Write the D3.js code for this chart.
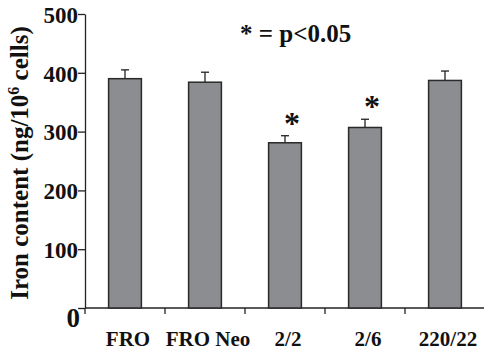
<!DOCTYPE html>
<html>
<head>
<meta charset="utf-8">
<script src="https://cdn.jsdelivr.net/npm/d3@7"></script>
<style>
  body { margin: 0; background: #fff; }
  text { font-family: "Liberation Serif", "Times New Roman", serif; font-weight: bold; fill: #111; }
</style>
</head>
<body>
<script>
const categories = ["FRO", "FRO Neo", "2/2", "2/6", "220/22"];
const values = [390, 384, 281, 307, 387];
const errors = [15, 17, 12, 14, 16];
const significant = [false, false, true, true, false];
const yTicks = [0, 100, 200, 300, 400, 500];

const width = 484;
const height = 350;

const svg = d3.select("body")
  .append("svg")
  .attr("width", width)
  .attr("height", height);

// scales
const xScale = d3.scaleBand()
  .domain(categories)
  .range([85, 485])
  .paddingInner(0.59)
  .paddingOuter(0.295);

const yScale = d3.scaleLinear()
  .domain([0, 500])
  .range([308, 14]);

// y axis
const yAxis = d3.axisLeft(yScale)
  .tickValues(yTicks)
  .tickSize(7)
  .tickSizeOuter(0)
  .tickFormat((d) => (d === 0 ? "" : d));

const gy = svg.append("g")
  .attr("transform", "translate(85,0)")
  .call(yAxis);
gy.select(".domain").attr("stroke", "#222").attr("stroke-width", 1.3);
gy.selectAll(".tick line").attr("stroke", "#222").attr("stroke-width", 1.3);
gy.selectAll(".tick text")
  .attr("x", -7)
  .attr("dy", "0.36em")
  .style("font-size", "23px")
  .style("font-family", "'Liberation Serif', serif")
  .style("font-weight", "bold")
  .attr("fill", "#111");

// the big zero at the origin
svg.append("text")
  .attr("x", 80)
  .attr("y", 327)
  .attr("text-anchor", "end")
  .style("font-size", "27px")
  .text("0");

// x axis line with ticks between the groups
const step = xScale.step();
const gap = step - xScale.bandwidth();
const boundaries = [85].concat(categories.map((c) => xScale(c) + xScale.bandwidth() + gap / 2));

svg.append("line")
  .attr("x1", 85)
  .attr("x2", 484)
  .attr("y1", yScale(0))
  .attr("y2", yScale(0))
  .attr("stroke", "#222")
  .attr("stroke-width", 1.3);

svg.selectAll(".xtick")
  .data(boundaries)
  .enter()
  .append("line")
  .attr("class", "xtick")
  .attr("x1", (d) => d)
  .attr("x2", (d) => d)
  .attr("y1", yScale(0))
  .attr("y2", yScale(0) + 6)
  .attr("stroke", "#222")
  .attr("stroke-width", 1.3);

// x labels
svg.selectAll(".xlabel")
  .data(categories)
  .enter()
  .append("text")
  .attr("class", "xlabel")
  .attr("x", (d) => xScale(d) + xScale.bandwidth() / 2 + 3)
  .attr("y", 346)
  .attr("text-anchor", "middle")
  .style("font-size", "21px")
  .text((d) => d);

// error bars (drawn behind bars)
const errG = svg.selectAll(".err")
  .data(categories)
  .enter()
  .append("g")
  .attr("class", "err");
errG.append("line")
  .attr("x1", (d) => xScale(d) + xScale.bandwidth() / 2)
  .attr("x2", (d) => xScale(d) + xScale.bandwidth() / 2)
  .attr("y1", (d, i) => yScale(values[i]))
  .attr("y2", (d, i) => yScale(values[i] + errors[i]))
  .attr("stroke", "#222")
  .attr("stroke-width", 1.3);
errG.append("line")
  .attr("x1", (d) => xScale(d) + xScale.bandwidth() / 2 - 4)
  .attr("x2", (d) => xScale(d) + xScale.bandwidth() / 2 + 4)
  .attr("y1", (d, i) => yScale(values[i] + errors[i]))
  .attr("y2", (d, i) => yScale(values[i] + errors[i]))
  .attr("stroke", "#222")
  .attr("stroke-width", 1.3);

// bars
svg.selectAll(".bar")
  .data(categories)
  .enter()
  .append("rect")
  .attr("class", "bar")
  .attr("x", (d) => xScale(d))
  .attr("y", (d, i) => yScale(values[i]))
  .attr("width", xScale.bandwidth())
  .attr("height", (d, i) => yScale(0) - yScale(values[i]))
  .attr("fill", "#8c8d91")
  .attr("stroke", "#2a2a2a")
  .attr("stroke-width", 1.5);

// significance stars
svg.selectAll(".star")
  .data(categories.filter((d, i) => significant[i]))
  .enter()
  .append("text")
  .attr("class", "star")
  .attr("x", (d) => xScale(d) + xScale.bandwidth() / 2 + 7)
  .attr("y", (d) => {
    const i = categories.indexOf(d);
    return yScale(values[i] + errors[i]) - 2;
  })
  .attr("text-anchor", "middle")
  .style("font-size", "32px")
  .text("*");

// legend note
svg.append("text")
  .attr("x", 240)
  .attr("y", 42)
  .style("font-size", "25px")
  .text("* = p<0.05");

// y axis title
const yTitle = svg.append("text")
  .attr("transform", "translate(28,163) rotate(-90)")
  .attr("text-anchor", "middle")
  .style("font-size", "25px");
yTitle.append("tspan").text("Iron content (ng/10");
yTitle.append("tspan").attr("dy", -9).style("font-size", "16px").text("6");
yTitle.append("tspan").attr("dy", 9).text(" cells)");
</script>
</body>
</html>
